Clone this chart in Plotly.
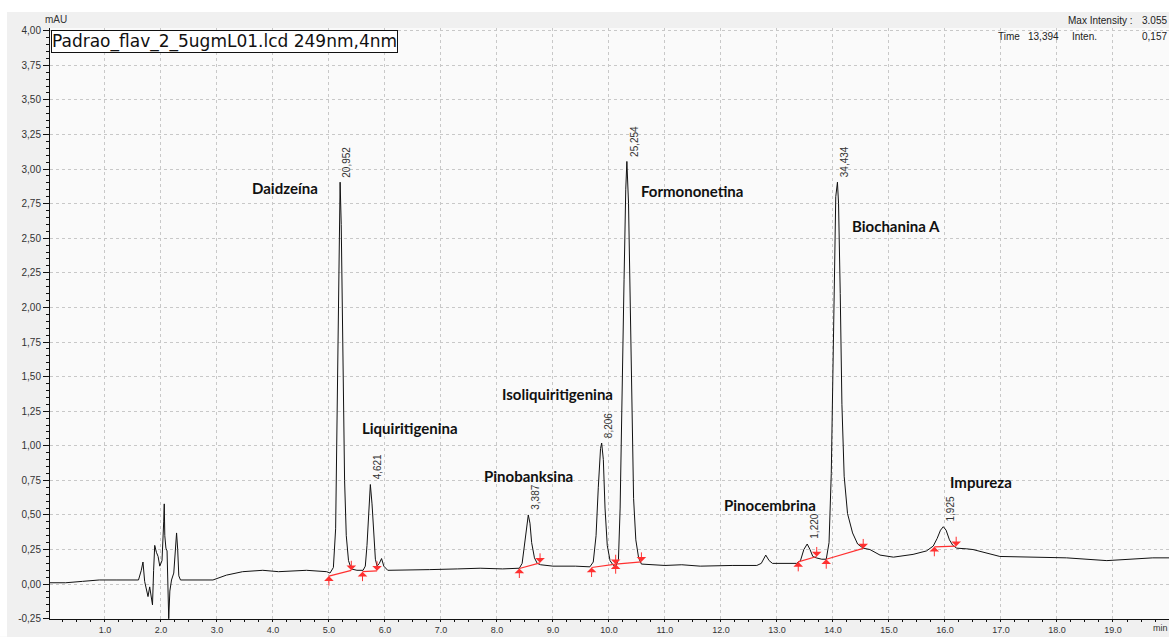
import plotly.graph_objects as go

# ---------------- data ----------------
time_min = [0.02, 0.30, 0.60, 0.90, 1.20, 1.45, 1.60, 1.65, 1.68, 1.71, 1.74, 1.77, 1.80, 1.83, 1.85,
            1.87, 1.89, 1.92, 1.95, 1.98, 2.02, 2.05, 2.06, 2.07, 2.09, 2.11, 2.12, 2.14, 2.16, 2.19,
            2.23, 2.26, 2.28, 2.30, 2.32, 2.35, 2.60, 2.93, 3.17, 3.46, 3.82, 4.10, 4.60, 4.96, 5.02,
            5.08, 5.12, 5.15, 5.18, 5.20, 5.22, 5.25, 5.28, 5.31, 5.35, 5.40, 5.50, 5.61, 5.65, 5.68,
            5.71, 5.74, 5.77, 5.80, 5.83, 5.86, 5.90, 5.94, 5.98, 6.05, 6.30, 6.80, 7.30, 7.70, 8.10,
            8.40, 8.45, 8.50, 8.54, 8.56, 8.59, 8.62, 8.67, 8.72, 8.78, 9.00, 9.40, 9.66, 9.72, 9.77,
            9.81, 9.85, 9.87, 9.90, 9.93, 9.97, 10.02, 10.07, 10.12, 10.17, 10.20, 10.24, 10.27, 10.30,
            10.32, 10.35, 10.38, 10.41, 10.44, 10.48, 10.53, 10.58, 11.00, 11.30, 11.63, 12.20, 12.64,
            12.72, 12.80, 12.86, 12.92, 13.35, 13.42, 13.48, 13.54, 13.59, 13.64, 13.70, 13.80, 13.88,
            13.93, 13.97, 14.00, 14.03, 14.05, 14.08, 14.10, 14.13, 14.16, 14.20, 14.26, 14.35, 14.44,
            14.54, 14.66, 14.84, 15.08, 15.43, 15.67, 15.79, 15.86, 15.92, 15.97, 16.02, 16.08, 16.14,
            16.21, 16.39, 16.50, 16.98, 17.57, 18.17, 18.89, 19.36, 19.71, 20.00]
intensity_mau = [0.01, 0.01, 0.02, 0.03, 0.03, 0.03, 0.03, 0.10, 0.16, 0.02, -0.05, -0.09, -0.02, -0.12, -0.15,
                 0.10, 0.28, 0.23, 0.20, 0.13, 0.17, 0.45, 0.58, 0.35, 0.26, 0.24, 0.05, -0.25, -0.05, 0.03,
                 0.08, 0.30, 0.37, 0.25, 0.06, 0.03, 0.03, 0.03, 0.065, 0.09, 0.10, 0.09, 0.10, 0.09, 0.08,
                 0.12, 0.40, 1.30, 2.50, 2.905, 2.60, 1.55, 0.75, 0.35, 0.17, 0.11, 0.10, 0.10, 0.13, 0.28,
                 0.55, 0.72, 0.58, 0.35, 0.18, 0.13, 0.15, 0.185, 0.13, 0.10, 0.10, 0.105, 0.11, 0.115, 0.11,
                 0.115, 0.15, 0.30, 0.46, 0.50, 0.44, 0.30, 0.19, 0.15, 0.14, 0.13, 0.13, 0.125, 0.16, 0.35,
                 0.70, 0.98, 1.02, 0.90, 0.55, 0.28, 0.17, 0.14, 0.125, 0.18, 0.55, 1.35, 2.20, 2.85,
                 3.055, 2.75, 1.95, 1.15, 0.62, 0.32, 0.19, 0.145, 0.135, 0.14, 0.13, 0.135, 0.135,
                 0.15, 0.21, 0.17, 0.15, 0.15, 0.17, 0.25, 0.29, 0.25, 0.20, 0.19, 0.18, 0.18,
                 0.30, 0.80, 1.50, 2.40, 2.80, 2.905, 2.75, 2.10, 1.30, 0.78, 0.51, 0.37, 0.29,
                 0.26, 0.25, 0.21, 0.195, 0.215, 0.24, 0.275, 0.33, 0.39, 0.415, 0.39, 0.32, 0.28,
                 0.26, 0.255, 0.25, 0.20, 0.195, 0.19, 0.17, 0.18, 0.19, 0.19]

# peak apex (area labels)
apex_time = [5.196, 5.74, 8.56, 9.87, 10.32, 13.54, 14.08, 15.97]
apex_value = [2.905, 0.72, 0.50, 1.02, 3.055, 0.29, 2.905, 0.415]
apex_label = ["20,952", "4,621", "3,387", "8,206", "25,254", "1,220", "34,434", "1,925"]

# compound names
compound_name = ["Daidzeína", "Liquiritigenina", "Pinobanksina", "Isoliquiritigenina",
                 "Formononetina", "Pinocembrina", "Biochanina A", "Impureza"]
compound_time = [4.21, 6.45, 8.56, 9.08, 11.48, 12.87, 15.12, 16.64]
compound_value = [2.86, 1.126, 0.78, 1.372, 2.845, 0.57, 2.592, 0.736]

# integration baselines
int_start_t = [5.00, 5.60, 8.40, 9.69, 10.12, 13.38, 13.88, 15.81]
int_start_v = [0.058, 0.09, 0.113, 0.12, 0.144, 0.161, 0.18, 0.27]
int_end_t = [5.40, 5.86, 8.77, 10.12, 10.58, 13.71, 14.54, 16.20]
int_end_v = [0.10, 0.096, 0.154, 0.144, 0.161, 0.20, 0.258, 0.274]

x_tick_vals = [1, 2, 3, 4, 5, 6, 7, 8, 9, 10, 11, 12, 13, 14, 15, 16, 17, 18, 19]
x_tick_text = ["1.0", "2.0", "3.0", "4.0", "5.0", "6.0", "7.0", "8.0", "9.0", "10.0",
               "11.0", "12.0", "13.0", "14.0", "15.0", "16.0", "17.0", "18.0", "19.0"]
y_tick_vals = [-0.25, 0.0, 0.25, 0.5, 0.75, 1.0, 1.25, 1.5, 1.75, 2.0, 2.25, 2.5, 2.75, 3.0,
               3.25, 3.5, 3.75, 4.0]
y_tick_text = ["-0,25", "0,00", "0,25", "0,50", "0,75", "1,00", "1,25", "1,50", "1,75", "2,00",
               "2,25", "2,50", "2,75", "3,00", "3,25", "3,50", "3,75", "4,00"]

title_text = "Padrao_flav_2_5ugmL01.lcd 249nm,4nm"
# header info texts and their left-edge pixel offset from the right edge of the plot
info_top_text = ["Max Intensity :", "3.055"]
info_top_shift = [-103, -29]
info_row_text = ["Time", "13,394", "Inten.", "0,157"]
info_row_shift = [-173, -143, -99, -29]

# ---------------- figure ----------------
RED = "#ff3030"
TICKFONT = dict(family="Liberation Sans, Arial", size=10, color="#333333")
XTICKFONT = dict(family="Liberation Sans, Arial", size=9, color="#333333")
INFOFONT = dict(family="Liberation Sans, Arial", size=10, color="#222222")

fig = go.Figure()

fig.add_trace(go.Scatter(x=time_min, y=intensity_mau, mode="lines",
                         line=dict(color="#111111", width=1), hoverinfo="skip"))

bx, by = [], []
for s_t, s_v, e_t, e_v in zip(int_start_t, int_start_v, int_end_t, int_end_v):
    bx += [s_t, e_t, None]
    by += [s_v, e_v, None]
fig.add_trace(go.Scatter(x=bx, y=by, mode="lines", line=dict(color=RED, width=1.2),
                         hoverinfo="skip"))

annotations = []
for t, v in zip(int_start_t, int_start_v):
    annotations.append(dict(x=t, y=v, xref="x", yref="y", text="", showarrow=True,
                            arrowhead=1, arrowsize=1.6, arrowwidth=1, arrowcolor=RED,
                            ax=0, ay=11, standoff=0))
for t, v in zip(int_end_t, int_end_v):
    annotations.append(dict(x=t, y=v, xref="x", yref="y", text="", showarrow=True,
                            arrowhead=1, arrowsize=1.6, arrowwidth=1, arrowcolor=RED,
                            ax=0, ay=-11, standoff=0))

for t, v, lab in zip(apex_time, apex_value, apex_label):
    annotations.append(dict(x=t, y=v, xref="x", yref="y", text=lab, showarrow=False,
                            textangle=-90, xanchor="center", yanchor="middle",
                            xshift=7, yshift=3 + 2.9 * len(lab),
                            font=dict(family="Liberation Sans, Arial", size=10, color="#333333")))

for t, v, name in zip(compound_time, compound_value, compound_name):
    annotations.append(dict(x=t, y=v, xref="x", yref="y", text="<b>" + name + "</b>",
                            showarrow=False, xanchor="center", yanchor="middle",
                            font=dict(family="Lato, Open Sans, sans-serif", size=15, color="#111111")))

annotations += [
    dict(x=0, y=1, xref="paper", yref="paper", text=title_text, showarrow=False,
         xanchor="left", yanchor="top", xshift=1, yshift=-2,
         bgcolor="white", bordercolor="#111111", borderwidth=1, borderpad=0,
         font=dict(family="DejaVu Sans, Verdana", size=17, color="#111111")),
    dict(x=0, y=1, xref="paper", yref="paper", text="mAU", showarrow=False,
         xanchor="center", yanchor="bottom", xshift=6, yshift=1,
         font=dict(family="Liberation Sans, Arial", size=10, color="#333333")),
    dict(x=19.84, y=0, xref="x", yref="paper", text="min", showarrow=False,
         xanchor="center", yanchor="top", yshift=-2, font=XTICKFONT),
]
for txt, sh in zip(info_top_text, info_top_shift):
    annotations.append(dict(x=1, y=1, xref="paper", yref="paper", text=txt, showarrow=False,
                            xanchor="left", yanchor="bottom", xshift=sh, yshift=0, font=INFOFONT))
for txt, sh in zip(info_row_text, info_row_shift):
    annotations.append(dict(x=1, y=1, xref="paper", yref="paper", text=txt, showarrow=False,
                            xanchor="left", yanchor="top", xshift=sh, yshift=-1, font=INFOFONT))

B_MARGIN = 18
PLOT_H = 637 - 28 - B_MARGIN
shapes = [
    dict(type="rect", xref="paper", yref="paper", x0=-0.05, x1=1.01,
         y0=1 + 16 / PLOT_H, y1=1.06, fillcolor="white", line=dict(width=0), layer="below"),
    dict(type="rect", xref="paper", yref="paper", x0=-0.05, x1=-43 / 1119,
         y0=-0.03, y1=1.06, fillcolor="white", line=dict(width=0), layer="below"),
]

fig.update_layout(
    width=1169, height=637,
    margin=dict(l=50, r=0, t=28, b=B_MARGIN),
    paper_bgcolor="#f0f0f0",
    plot_bgcolor="#fafafa",
    showlegend=False,
    annotations=annotations,
    shapes=shapes,
    xaxis=dict(range=[0.02, 20.0], tickvals=x_tick_vals, ticktext=x_tick_text,
               automargin=False,
               showgrid=True, gridcolor="#c8c8c8", griddash="3px,3px", gridwidth=1,
               zeroline=False, showline=True, linecolor="#111111", linewidth=1,
               ticks="outside", ticklen=2, tickcolor="#111111", tickfont=XTICKFONT,
               minor=dict(ticks="outside", ticklen=2, dtick=0.25, tick0=0,
                          tickcolor="#111111", showgrid=False)),
    yaxis=dict(range=[-0.252, 4.0195], tickvals=y_tick_vals, ticktext=y_tick_text,
               automargin=False,
               showgrid=True, gridcolor="#c8c8c8", griddash="3px,3px", gridwidth=1,
               zeroline=False, showline=True, linecolor="#111111", linewidth=1,
               ticks="outside", ticklen=6, tickcolor="#111111", tickfont=TICKFONT,
               minor=dict(ticks="outside", ticklen=3, dtick=0.05, tick0=0,
                          tickcolor="#111111", showgrid=False)),
)

fig.write_html("out.html")
